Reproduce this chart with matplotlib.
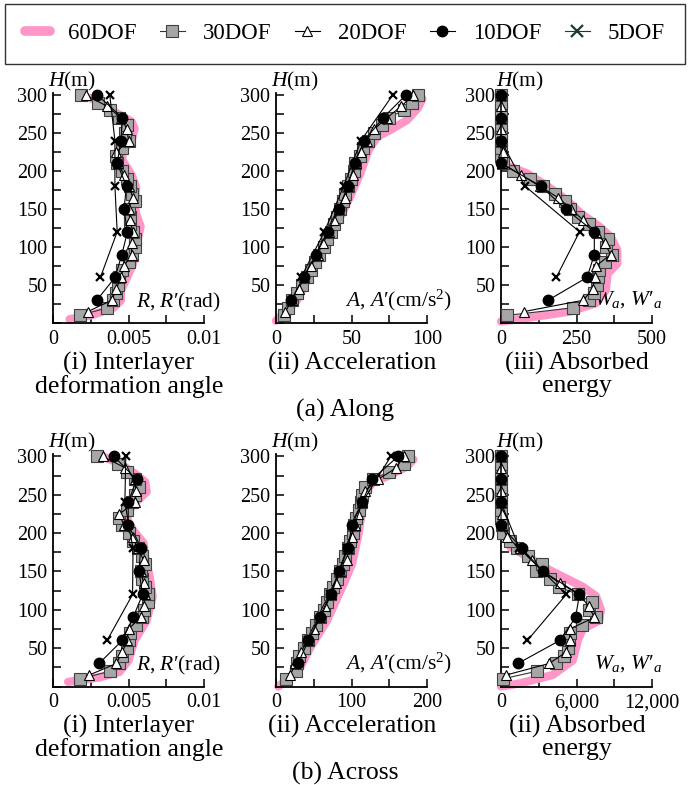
import numpy as np
import matplotlib
matplotlib.use("Agg")
import matplotlib.pyplot as plt
from matplotlib.lines import Line2D
from matplotlib.ticker import MultipleLocator

plt.rcParams['font.family'] = ['Liberation Serif', 'DejaVu Serif']
plt.rcParams['mathtext.fontset'] = 'custom'
plt.rcParams['mathtext.rm'] = 'Liberation Serif'
plt.rcParams['mathtext.it'] = 'Liberation Serif:italic'

# storey heights (m)
h30 = [10, 20, 30, 40, 50, 60, 70, 80, 90, 100, 110, 120, 130, 140, 150,
       160, 170, 180, 190, 200, 210, 220, 230, 240, 250, 260, 270, 280, 290, 300]
h20 = [15, 30, 45, 60, 75, 90, 105, 120, 135, 150, 165, 180, 195, 210, 225,
       240, 255, 270, 285, 300]
h10 = [30, 60, 90, 120, 150, 180, 210, 240, 270, 300]
h5 = [60, 120, 180, 240, 300]

# ---- (a) Along ----
# interlayer deformation angle (rad)
h60_ra = [5, 10, 20, 30, 43, 60, 78, 100, 127, 144, 157, 179, 195, 214, 228,
          239, 256, 265, 274, 285, 293, 300]
r60_a = [0.0011, 0.0025, 0.0040, 0.0045, 0.0045, 0.0049, 0.0053, 0.0055, 0.0058,
         0.0055, 0.0054, 0.0055, 0.0052, 0.0046, 0.0046, 0.0052, 0.0054, 0.0052,
         0.0044, 0.0035, 0.0029, 0.0018]
r30_a = [0.00177, 0.0036, 0.0040, 0.0042, 0.0043, 0.0044, 0.0046, 0.0050, 0.0052,
         0.0054, 0.0054, 0.0053, 0.0051, 0.0051, 0.0050, 0.0054, 0.00524, 0.0051,
         0.00487, 0.0046, 0.00425, 0.00416, 0.0046, 0.0050, 0.0048, 0.00487,
         0.0044, 0.00376, 0.0030, 0.00188]
r20_a = [0.0023, 0.0039, 0.0042, 0.0045, 0.0047, 0.0052, 0.0052, 0.0053, 0.0051,
         0.0050, 0.0053, 0.0050, 0.0047, 0.0043, 0.0042, 0.0050, 0.0049, 0.0045,
         0.0036, 0.00217]
r10_a = [0.0029, 0.00411, 0.00456, 0.00493, 0.0047, 0.00487, 0.00425, 0.0045,
         0.0046, 0.00294]
r5_a = [0.00314, 0.00425, 0.0041, 0.0041, 0.00376]

# acceleration (cm/s2)
h60_aa = [3, 30, 65, 100, 140, 166, 197, 228, 245, 254, 267, 283, 295]
a60_a = [0, 14, 22.7, 31.6, 42.6, 49, 55.8, 61.4, 67, 75.7, 86.8, 94, 97]
a30_a = [5.1, 7.7, 10.6, 13.9, 17.2, 20.5, 23.2, 26, 28.3, 31.6, 33.8, 36.4, 38.6,
         40.4, 42.6, 44.4, 45.9, 47.5, 49.7, 51.4, 52.5, 55.8, 57.6, 60.7, 65, 70,
         74.6, 84.5, 90.3, 94]
a20_a = [6.2, 10.6, 15, 18.8, 23.2, 27.6, 31, 35.3, 38.6, 42, 45.9, 48, 50.8, 53,
         56.3, 60, 65, 73.5, 82.8, 91]
a10_a = [9.9, 18.3, 26.5, 34.2, 41.5, 47.5, 52, 58.5, 70.9, 86]
a5_a = [16.6, 32, 44.8, 56.3, 77.3]

# absorbed energy
h60_wa = [2, 6, 15, 26, 43, 65, 78, 96, 113, 127, 144, 162, 181, 197, 208, 219,
          240, 300]
w60_a = [0, 74, 227, 314, 347, 353, 385, 385, 364, 325, 265, 216, 150, 85, 14, 3,
         0, 0]
w30_a = [20, 238, 293, 309, 317, 320, 323, 344, 369, 347, 353, 320, 290, 254, 228,
         211, 178, 138, 96, 41, 5, 0, 0, 0, 0, 0, 0, 0, 0, 0]
w20_a = [76, 273, 303, 311, 314, 363, 344, 314, 273, 232, 189, 128, 66, 3, 6,
         0, 0, 0, 0, 0]
w10_a = [156, 285, 309, 309, 214, 132, 0, 0, 0, 0]
w5_a = [183, 260, 80, 0, 0]

# ---- (b) Across ----
h60_rb = [6, 12, 19, 34, 60, 86, 117, 143, 169, 187, 204, 219, 235, 254, 267,
          278, 291, 300]
r60_b = [0.0010, 0.0031, 0.0044, 0.0050, 0.0054, 0.0062, 0.0066, 0.0064, 0.0061,
         0.0060, 0.0053, 0.0049, 0.0052, 0.0062, 0.0061, 0.0054, 0.0044, 0.0033]
r30_b = [0.0018, 0.0038, 0.0044, 0.0046, 0.0049, 0.0050, 0.0051, 0.0055, 0.0059,
         0.0060, 0.0063, 0.0063, 0.0061, 0.0059, 0.0058, 0.0061, 0.0059, 0.0056,
         0.0053, 0.0050, 0.0046, 0.0044, 0.0049, 0.0052, 0.0054, 0.0057, 0.0054,
         0.0049, 0.0043, 0.00294]
r20_b = [0.0024, 0.0042, 0.0046, 0.0049, 0.0050, 0.0058, 0.0060, 0.0061, 0.0060,
         0.0058, 0.0060, 0.0056, 0.0053, 0.0047, 0.0044, 0.0054, 0.0055, 0.0054,
         0.0048, 0.0033]
r10_b = [0.00305, 0.00458, 0.0053, 0.00593, 0.0057, 0.0058, 0.00498, 0.00498,
         0.00553, 0.00405]
r5_b = [0.00358, 0.00527, 0.0053, 0.00476, 0.00482]

h60_ab = [0, 12, 25, 51, 86, 134, 160, 200, 230, 256, 267, 274, 287, 296]
a60_b = [3, 19, 32, 45.5, 67.5, 89.6, 100.7, 109.5, 114, 120.5, 129, 147, 173.5, 182]
a30_b = [13.7, 27, 27.8, 30, 36.6, 43, 47.7, 53, 58, 63, 67.5, 72, 76, 81, 85, 89,
         92, 95, 97.6, 102, 103, 106, 109.5, 112, 114, 118, 128, 150, 170, 175]
a20_b = [19, 25.6, 33, 42, 50, 58, 65, 73, 79, 85, 94, 96, 100, 104, 108, 114, 118,
         135, 159, 169]
a10_b = [29, 43, 58.7, 73, 84, 95, 100.7, 114, 127, 161.6]
a5_b = [42.4, 72, 94, 114, 152]

h60_wb = [0, 4, 15, 34, 60, 75, 86, 100, 118, 130, 143, 154, 170, 182, 200, 217,
          239, 300]
w60_b = [0, 1500, 4100, 5700, 6100, 6500, 7800, 7940, 7545, 6500, 4925, 3615, 2043,
         733, 340, 157, 80, 0]
w30_b = [157, 2882, 4402, 4978, 5319, 5397, 5450, 6419, 7546, 7022, 7231, 6105, 4611,
         3877, 2777, 3222, 2122, 1258, 680, 157, 50, 0, 0, 0, 0, 0, 0, 0, 0, 0]
w20_b = [419, 3825, 5188, 5450, 5450, 7415, 6969, 6200, 4664, 3300, 2500, 1500, 470,
         100, 60, 0, 0, 0, 0, 0]
w10_b = [1336, 4664, 5921, 6236, 3354, 1650, 0, 0, 0, 0]
w5_b = [2096, 5188, 1467, 0, 0]

pink = '#FF96C8'
sq = dict(marker='s', color='#333333', lw=0.8, ms=8, mfc='#A6A6A6', mec='#404040', mew=0.8)
tri = dict(marker='^', color='black', lw=0.8, ms=7.5, mfc='white', mec='black', mew=0.8)
cir = dict(marker='o', color='black', lw=0.8, ms=7.5, mfc='black', mec='black')
crs = dict(marker='x', color='black', lw=0.8, ms=6, mew=1.6)

W, H = 691, 785
fig = plt.figure(figsize=(W / 100, H / 100), dpi=100)


def make_ax(x0, y0, ppm, xmax, xlabels, xname, xname_pos):
    top = 303
    ax = fig.add_axes([x0 / W, 1 - y0 / H, 151 / W, top * ppm / H])
    ax.set_ylim(0, top)
    ax.set_xlim(0, xmax)
    for s in ['top', 'right']:
        ax.spines[s].set_visible(False)
    for s in ['left', 'bottom']:
        ax.spines[s].set_linewidth(1.3)
    ax.set_yticks([50, 100, 150, 200, 250, 300])
    ax.yaxis.set_minor_locator(MultipleLocator(25))
    ax.set_xticks([0, xmax / 2, xmax])
    ax.set_xticklabels(xlabels)
    ax.xaxis.set_minor_locator(MultipleLocator(xmax / 4))
    ax.tick_params(which='both', direction='in', length=6, width=1.1, labelsize=14.5)
    ax.tick_params(axis='x', pad=5)
    ax.tick_params(axis='y', pad=4)
    ax.text(-0.03, 1.0, '$H$(m)', transform=ax.transAxes, fontsize=15.5,
            ha='left', va='bottom')
    ax.text(xname_pos[0], xname_pos[1], xname, transform=ax.transAxes,
            fontsize=15.5, ha='right', va='center')
    return ax


def draw(ax, h60, v60, v30, v20, v10, v5):
    ax.plot(v60, h60, color=pink, lw=6, solid_capstyle='round',
            solid_joinstyle='round', clip_on=False, zorder=2)
    ax.plot(v30, h30, clip_on=False, zorder=3, **sq)
    ax.plot(v20, h20, clip_on=False, zorder=4, **tri)
    ax.plot(v10, h10, clip_on=False, zorder=5, **cir)
    ax.plot(v5, h5, clip_on=False, zorder=6, **crs)


lefts = [53, 276, 501]
rows = [(323, 0.76), (686.5, 0.7667)]
r_name = "$R$, $R$\u2032(rad)"
a_name = "$A$, $A$\u2032(cm/s$^2$)"
w_name = "$W_a$, $W\u2032_a$"

ax = make_ax(lefts[0], rows[0][0], rows[0][1], 0.01, ['0', '0.005', '0.01'],
             r_name, (1.11, 0.09))
draw(ax, h60_ra, r60_a, r30_a, r20_a, r10_a, r5_a)
ax = make_ax(lefts[1], rows[0][0], rows[0][1], 100, ['0', '50', '100'],
             a_name, (1.165, 0.10))
draw(ax, h60_aa, a60_a, a30_a, a20_a, a10_a, a5_a)
ax = make_ax(lefts[2], rows[0][0], rows[0][1], 500, ['0', '250', '500'],
             w_name, (1.07, 0.10))
draw(ax, h60_wa, w60_a, w30_a, w20_a, w10_a, w5_a)

ax = make_ax(lefts[0], rows[1][0], rows[1][1], 0.01, ['0', '0.005', '0.01'],
             r_name, (1.11, 0.09))
draw(ax, h60_rb, r60_b, r30_b, r20_b, r10_b, r5_b)
ax = make_ax(lefts[1], rows[1][0], rows[1][1], 200, ['0', '100', '200'],
             a_name, (1.165, 0.10))
draw(ax, h60_ab, a60_b, a30_b, a20_b, a10_b, a5_b)
ax = make_ax(lefts[2], rows[1][0], rows[1][1], 12000, ['0', '6,000', '12,000'],
             w_name, (1.07, 0.10))
draw(ax, h60_wb, w60_b, w30_b, w20_b, w10_b, w5_b)

# captions
titles_a = ['(i) Interlayer\ndeformation angle', '(ii) Acceleration', '(iii) Absorbed\nenergy']
titles_b = ['(i) Interlayer\ndeformation angle', '(ii) Acceleration', '(ii) Absorbed\nenergy']
for row_y, titles, cap, cap_y in [(352, titles_a, '(a) Along', 410),
                                  (715, titles_b, '(b) Across', 773)]:
    for x0, t in zip(lefts, titles):
        fig.text((x0 + 76) / W, 1 - row_y / H, t, ha='center', va='top',
                 fontsize=18.5, linespacing=1.0)
    fig.text(345 / W, 1 - cap_y / H, cap, ha='center', va='center', fontsize=18.5)

handles = [
    Line2D([], [], color=pink, lw=7, solid_capstyle='round'),
    Line2D([], [], **sq),
    Line2D([], [], **tri),
    Line2D([], [], **cir),
    Line2D([], [], marker='x', color='#1a3a3a', lw=0.8, ms=8, mew=1.6),
]
labels = ['60DOF', '30DOF', '20DOF', '10DOF', '5DOF']
leg = fig.legend(handles, labels, loc='center', bbox_to_anchor=(345 / W, 1 - 33.5 / H),
                 ncol=5, fontsize=16.5, frameon=True, fancybox=False, edgecolor='black',
                 handlelength=1.1, handletextpad=0.8, columnspacing=1.0,
                 borderpad=0.85, borderaxespad=0)
leg.get_frame().set_linewidth(1.0)

fig.savefig('out.png', dpi=100)
